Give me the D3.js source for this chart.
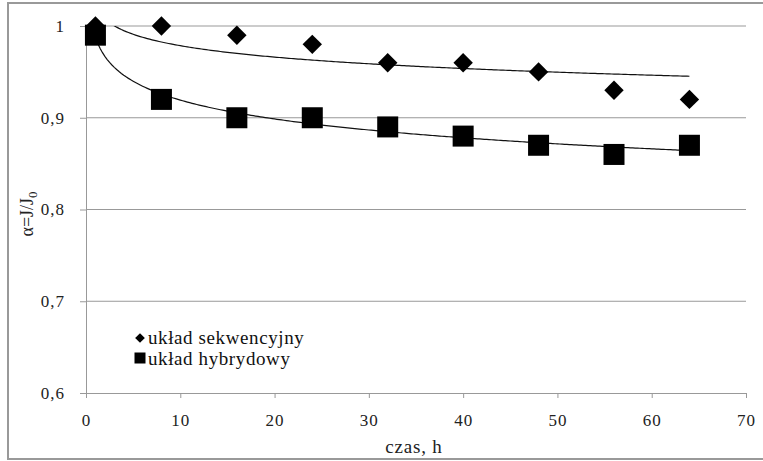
<!DOCTYPE html>
<html>
<head>
<meta charset="utf-8">
<script src="https://cdn.jsdelivr.net/npm/d3@7"></script>
<style>
  body { margin: 0; background: #fff; }
</style>
</head>
<body>
<div id="chart"></div>
<script>
var hours = [1, 8, 16, 24, 32, 40, 48, 56, 64];
var sekwencyjny = [1.0, 1.0, 0.99, 0.98, 0.96, 0.96, 0.95, 0.93, 0.92];
var hybrydowy = [0.99, 0.92, 0.90, 0.90, 0.89, 0.88, 0.87, 0.86, 0.87];
var xTicks = [0, 10, 20, 30, 40, 50, 60, 70];
var yTicks = [0.6, 0.7, 0.8, 0.9, 1];
var legendLabels = ["układ sekwencyjny", "układ hybrydowy"];

var serif = "Liberation Serif";

var svgWidth = 763, svgHeight = 461;
var margin = {top: 26, right: 17, bottom: 68, left: 86},
    width = svgWidth - margin.left - margin.right,
    height = svgHeight - margin.top - margin.bottom;

var svg = d3.select("#chart").append("svg")
    .attr("width", svgWidth)
    .attr("height", svgHeight)
    .attr("font-family", serif);

// outer frame
svg.append("rect")
    .attr("x", 8).attr("y", 3)
    .attr("width", 770).attr("height", 456)
    .attr("fill", "none")
    .attr("stroke", "#999")
    .attr("stroke-width", 2);

svg.append("defs").append("clipPath")
    .attr("id", "plot-clip")
  .append("rect")
    .attr("width", width).attr("height", height);

var g = svg.append("g")
    .attr("transform", "translate(" + margin.left + "," + margin.top + ")");

var x = d3.scaleLinear().domain([0, 70]).range([0, width]);
var y = d3.scaleLinear().domain([0.6, 1]).range([height, 0]);

var fmt = function(d) { return d === 1 ? "1" : d3.format(".1f")(d).replace(".", ","); };

// gridlines
g.selectAll(".grid")
    .data(yTicks.filter(function(d) { return d > 0.6; }))
  .enter().append("line")
    .attr("x1", 0).attr("x2", width)
    .attr("y1", function(d) { return y(d); })
    .attr("y2", function(d) { return y(d); })
    .attr("stroke", "#999")
    .attr("stroke-width", 1);

var xAxis = g.append("g")
    .attr("transform", "translate(0," + height + ")")
    .call(d3.axisBottom(x).tickValues(xTicks).tickSize(5).tickSizeOuter(0).tickPadding(16));

var yAxis = g.append("g")
    .call(d3.axisLeft(y).tickValues(yTicks).tickFormat(fmt).tickSize(6).tickSizeOuter(0).tickPadding(15));

[xAxis, yAxis].forEach(function(a) {
  a.attr("font-family", serif).attr("font-size", 17);
  a.select(".domain").attr("stroke", "#999");
  a.selectAll(".tick line").attr("stroke", "#999");
  a.selectAll(".tick text").attr("fill", "#222").attr("letter-spacing", 1);
});

// logarithmic trendlines (least squares on ln x), clipped to plot area
function logFit(xs, ys) {
  var lx = xs.map(Math.log);
  var mx = d3.mean(lx), my = d3.mean(ys);
  var num = d3.sum(lx, function(v, i) { return (v - mx) * (ys[i] - my); });
  var den = d3.sum(lx, function(v) { return (v - mx) * (v - mx); });
  var a = num / den, b = my - a * mx;
  return function(t) { return a * Math.log(t) + b; };
}

var line = d3.line()
    .x(function(d) { return x(d[0]); })
    .y(function(d) { return y(d[1]); });

var trends = g.append("g").attr("clip-path", "url(#plot-clip)");
[sekwencyjny, hybrydowy].forEach(function(vals) {
  var f = logFit(hours, vals);
  var pts = d3.range(1, 64.01, 0.25).map(function(t) { return [t, f(t)]; });
  trends.append("path")
      .datum(pts)
      .attr("fill", "none")
      .attr("stroke", "#111")
      .attr("stroke-width", 1.2)
      .attr("d", line);
});

// markers
var diamond = d3.symbol().type(d3.symbolDiamond2).size(240);
g.selectAll(".dia")
    .data(hours.map(function(h, i) { return [h, sekwencyjny[i]]; }))
  .enter().append("path")
    .attr("d", diamond)
    .attr("transform", function(d) { return "translate(" + x(d[0]) + "," + y(d[1]) + ")"; })
    .attr("fill", "#000");

g.selectAll(".sq")
    .data(hours.map(function(h, i) { return [h, hybrydowy[i]]; }))
  .enter().append("rect")
    .attr("x", function(d) { return x(d[0]) - 10.5; })
    .attr("y", function(d) { return y(d[1]) - 10.5; })
    .attr("width", 21).attr("height", 21)
    .attr("fill", "#000");

// legend
var legend = svg.append("g").attr("transform", "translate(140,338)");
legend.append("path")
    .attr("d", d3.symbol().type(d3.symbolDiamond2).size(60))
    .attr("fill", "#000");
legend.append("rect")
    .attr("x", -5.5).attr("y", 14.5).attr("width", 11).attr("height", 11)
    .attr("fill", "#000");
legend.selectAll("text")
    .data(legendLabels)
  .enter().append("text")
    .attr("x", 8)
    .attr("y", function(d, i) { return 6 + i * 21; })
    .attr("fill", "#111")
    .attr("font-size", 19)
    .attr("letter-spacing", 0.6)
    .text(function(d) { return d; });

// axis titles
svg.append("text")
    .attr("x", margin.left + x(35) - 2)
    .attr("y", 453)
    .attr("text-anchor", "middle")
    .attr("fill", "#222")
    .attr("font-size", 19)
    .attr("letter-spacing", 0.8)
    .text("czas, h");

var yl = svg.append("text")
    .attr("transform", "translate(33,214) rotate(-90)")
    .attr("text-anchor", "middle")
    .attr("fill", "#222")
    .attr("font-size", 18);
yl.append("tspan").text("α=J/J");
yl.append("tspan").attr("dy", 4).attr("font-size", 13).text("0");
</script>
</body>
</html>
